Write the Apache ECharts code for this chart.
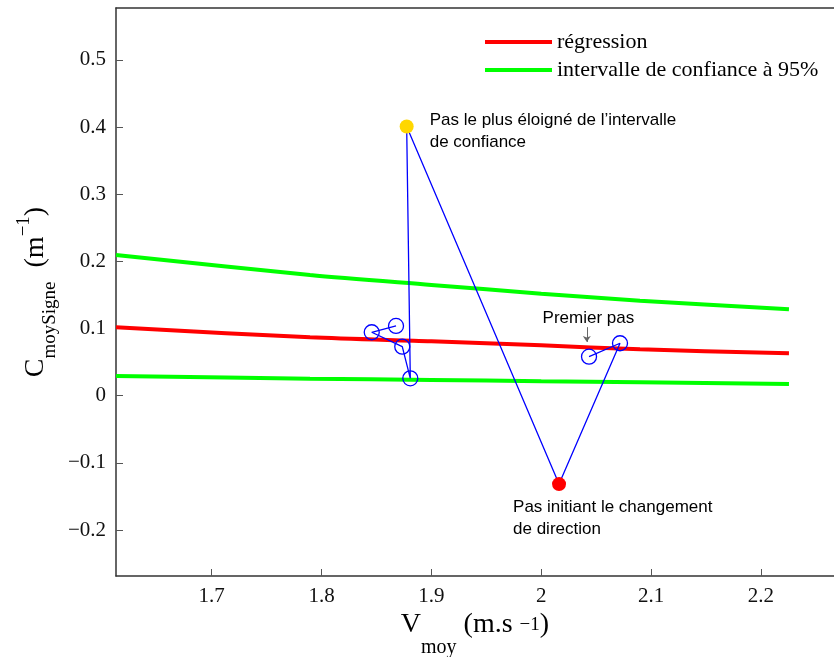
<!DOCTYPE html>
<html><head><meta charset="utf-8">
<script src="https://cdn.jsdelivr.net/npm/echarts@6/dist/echarts.min.js"></script>
<style>html,body{margin:0;padding:0;background:#fff}#c{width:834px;height:657px}</style>
</head><body><div id="c"></div>
<script>
// ---- data ----
const xTicks = [1.7, 1.8, 1.9, 2.0, 2.1, 2.2];
const yTicks = [-0.2, -0.1, 0, 0.1, 0.2, 0.3, 0.4, 0.5];
const fitX   = [1.6129, 1.7895, 1.9, 2.0, 2.0899, 2.2255];
const regY   = [0.1019, 0.0870, 0.081, 0.075, 0.0691, 0.0632];
const upperY = [0.2096, 0.1798, 0.165, 0.152, 0.1415, 0.1287];
const lowerY = [0.0293, 0.0253, 0.0235, 0.0215, 0.0200, 0.0174];
const pathX  = [2.0435, 2.0717, 2.0162, 1.8775, 1.8808, 1.8735, 1.8457, 1.8678];
const pathY  = [0.0581, 0.0781, -0.1316, 0.4009, 0.0259, 0.0730, 0.0945, 0.1039];
const firstIdx = 0, redIdx = 2, yellowIdx = 3;
const txtFirst  = 'Premier pas';
const txtYellow = 'Pas le plus éloigné de l\u2019intervalle\nde confiance';
const txtRed    = 'Pas initiant le changement\nde direction';
const nameReg = 'régression';
const nameCI  = 'intervalle de confiance à 95%';

// ---- build ----
const serif = '"Liberation Serif","Times New Roman",serif';
const sans  = '"Liberation Sans",Arial,sans-serif';
function fmt(v){ const r = Math.round(v*10)/10; const s = String(Math.abs(r)); return r < 0 ? '\u2212' + s : s; }
const zip = (xs, ys) => xs.map((x, i) => [x, ys[i]]);

const xRich = {
  m: {fontSize: 28, fontFamily: serif, color: '#000', lineHeight: 34, verticalAlign: 'top'},
  s: {fontSize: 20, fontFamily: serif, color: '#000', lineHeight: 20, padding: [27,0,0,0], verticalAlign: 'top'},
  p: {fontSize: 19, fontFamily: serif, color: '#000', lineHeight: 20, padding: [5,0,0,0], verticalAlign: 'top'}
};
const yRich = {
  m: {fontSize: 28, fontFamily: serif, color: '#000', lineHeight: 34, padding: [9,0,0,0], verticalAlign: 'top'},
  s: {fontSize: 19, fontFamily: serif, color: '#000', lineHeight: 20, padding: [28,0,0,0], verticalAlign: 'top'},
  p: {fontSize: 19, fontFamily: serif, color: '#000', lineHeight: 20, padding: [2,0,0,0], verticalAlign: 'top'}
};
const axisLineStyle = {color: '#333', width: 1.5};
const tickStyle = {color: '#555', width: 1};
const labelBase = {fontFamily: sans, fontSize: 17, lineHeight: 22, color: '#000'};

const pathData = pathX.map((x, i) => {
  const item = {value: [x, pathY[i]]};
  if (i === yellowIdx || i === redIdx) {
    const col = i === yellowIdx ? '#ffd700' : '#ff0000';
    item.symbolSize = 14;
    item.itemStyle = {color: col, borderColor: col, borderWidth: 0};
    item.label = Object.assign({show: true, align: 'left', verticalAlign: 'top',
      formatter: i === yellowIdx ? txtYellow : txtRed,
      position: i === yellowIdx ? [30, -10] : [-39, 19]}, labelBase);
  } else if (i === firstIdx) {
    item.label = Object.assign({show: true, align: 'center', verticalAlign: 'middle',
      formatter: txtFirst, position: [7.5, -30]}, labelBase);
  }
  return item;
});

const chart = echarts.init(document.getElementById('c'), null, {renderer: 'canvas'});
chart.setOption({
  animation: false,
  backgroundColor: '#fff',
  grid: {left: 116, right: 0, top: 8, bottom: 81, containLabel: false, outerBoundsMode: 'none'},
  legend: {
    data: [nameReg, nameCI], orient: 'vertical', left: 485, top: 31, padding: 0,
    icon: 'rect', itemWidth: 67, itemHeight: 4, itemGap: 6,
    textStyle: {fontFamily: serif, fontSize: 22, lineHeight: 22, color: '#000'}
  },
  xAxis: [{
    type: 'value', min: 1.6129, max: 2.2665, position: 'bottom',
    axisLine: {show: true, onZero: false, lineStyle: axisLineStyle},
    axisTick: {show: true, inside: true, length: 7, lineStyle: tickStyle, customValues: xTicks},
    axisLabel: {customValues: xTicks, formatter: fmt, fontFamily: serif, fontSize: 21, color: '#111', margin: 10},
    splitLine: {show: false},
    name: '{m|V}{s|moy}{m| (m.s }{p|\u22121}{m|)}',
    nameLocation: 'middle', nameGap: 35, nameMoveOverlap: false, nameTextStyle: {rich: xRich}
  }, {
    type: 'value', min: 1.6129, max: 2.2665, position: 'top',
    axisLine: {show: true, onZero: false, lineStyle: axisLineStyle},
    axisTick: {show: false}, axisLabel: {show: false}, splitLine: {show: false}
  }],
  yAxis: {
    type: 'value', min: -0.2685, max: 0.5774,
    axisLine: {show: true, onZero: false, lineStyle: axisLineStyle},
    axisTick: {show: true, inside: true, length: 7, lineStyle: tickStyle, customValues: yTicks},
    axisLabel: {customValues: yTicks, formatter: fmt, fontFamily: serif, fontSize: 21, color: '#111', margin: 10},
    splitLine: {show: false},
    name: '{m|C}{s|moySigne}{m|  (m}{p|\u22121}{m|)}',
    nameLocation: 'middle', nameRotate: 90, nameGap: 69, nameMoveOverlap: false, nameTextStyle: {rich: yRich}
  },
  series: [
    {type: 'line', name: nameReg, data: zip(fitX, regY), symbol: 'none', smooth: 0.3, silent: true,
     lineStyle: {color: '#ff0000', width: 4}, itemStyle: {color: '#ff0000'}, z: 2},
    {type: 'line', name: nameCI, data: zip(fitX, upperY), symbol: 'none', smooth: 0.3, silent: true,
     lineStyle: {color: '#00ff00', width: 4}, itemStyle: {color: '#00ff00'}, z: 2},
    {type: 'line', name: nameCI, data: zip(fitX, lowerY), symbol: 'none', smooth: 0.3, silent: true,
     lineStyle: {color: '#00ff00', width: 4}, itemStyle: {color: '#00ff00'}, z: 2},
    {type: 'line', name: 'pas', data: pathData, symbol: 'circle', symbolSize: 15, showAllSymbol: true, silent: true,
     lineStyle: {color: '#0000ff', width: 1.3},
     itemStyle: {color: 'rgba(0,0,0,0)', borderColor: '#0000ff', borderWidth: 1.3}, z: 5,
     markLine: {
       silent: true, animation: false, symbol: ['none', 'arrow'], symbolSize: 6,
       label: {show: false}, lineStyle: {color: '#666', width: 1, type: 'solid'},
       data: [[{coord: [pathX[firstIdx] - 0.002, pathY[firstIdx] + 0.044]},
               {coord: [pathX[firstIdx] - 0.002, pathY[firstIdx] + 0.022]}]]
     }}
  ]
});
</script></body></html>
